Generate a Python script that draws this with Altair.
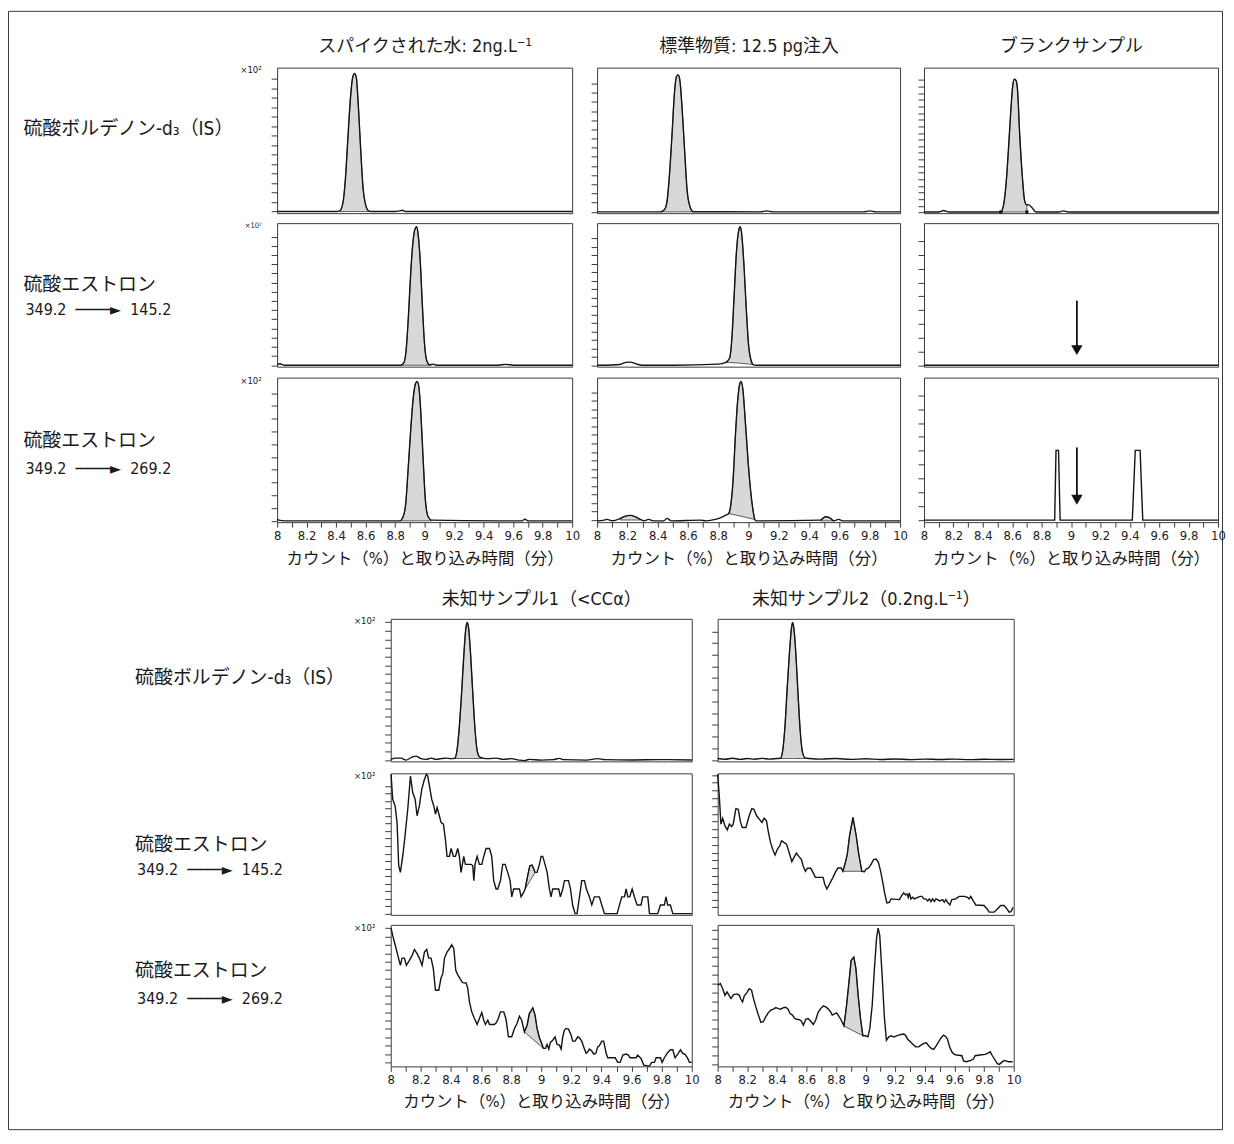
import altair as alt
import pandas as pd

# ---------------- text ----------------
NB = "\u00a0"
COL_TITLES_TOP = ["スパイクされた水: 2ng.L⁻¹", "標準物質: 12.5 pg注入", "ブランクサンプル"]
COL_TITLES_BOT = ["未知サンプル1（<CCα）", "未知サンプル2（0.2ng.L⁻¹）"]
ROW_LABELS = ["硫酸ボルデノン-d₃（IS）", "硫酸エストロン", "硫酸エストロン"]
ROW_SUBLABELS = ["", "349.2" + NB * 2 + "────►" + NB * 2 + "145.2",
                 "349.2" + NB * 2 + "────►" + NB * 2 + "269.2"]
X_TITLE = "カウント（%）と取り込み時間（分）"
SCALE_NOTE = "×10²"
X_TICKS = [8.0, 8.1, 8.2, 8.3, 8.4, 8.5, 8.6, 8.7, 8.8, 8.9, 9.0,
           9.1, 9.2, 9.3, 9.4, 9.5, 9.6, 9.7, 9.8, 9.9, 10.0]

# ---------------- data: retention time (min) / signal (% of panel full scale) ----------------
# top block, row 1 (IS)
T11_X = [8.0, 8.2, 8.40, 8.425, 8.447, 8.463, 8.481, 8.497, 8.511, 8.524, 8.536, 8.549, 8.565, 8.583, 8.601, 8.617, 8.636, 8.80, 8.832, 8.847, 8.87, 9.2, 9.6, 10.0]
T11_Y = [1.1, 1.1, 1.1, 1.6, 7.6, 23.7, 53.6, 78.8, 92.6, 96.0, 93.8, 76.6, 46.7, 16.8, 5.3, 1.8, 1.1, 1.1, 1.6, 2.0, 1.1, 1.1, 1.1, 1.1]
T11_FX = [8.425, 8.447, 8.463, 8.481, 8.497, 8.511, 8.524, 8.536, 8.549, 8.565, 8.583, 8.601, 8.617, 8.636]
T11_FY = [1.6, 7.6, 23.7, 53.6, 78.8, 92.6, 96.0, 93.8, 76.6, 46.7, 16.8, 5.3, 1.8, 1.1]
T11_FB = [1.1] * 14

T12_X = [8.0, 8.418, 8.444, 8.462, 8.477, 8.495, 8.51, 8.524, 8.535, 8.546, 8.561, 8.579, 8.594, 8.612, 8.634, 9.08, 9.12, 9.16, 9.76, 9.80, 9.84, 10.0]
T12_Y = [0.9, 0.9, 2.3, 8.3, 25.2, 54.5, 81.5, 93.9, 95.0, 91.7, 72.5, 41.0, 16.2, 4.9, 1.0, 0.9, 1.6, 0.9, 0.9, 1.6, 0.9, 0.9]
T12_FX = [8.418, 8.444, 8.462, 8.477, 8.495, 8.51, 8.524, 8.535, 8.546, 8.561, 8.579, 8.594, 8.612, 8.634]
T12_FY = [0.9, 2.3, 8.3, 25.2, 54.5, 81.5, 93.9, 95.0, 91.7, 72.5, 41.0, 16.2, 4.9, 1.0]
T12_FB = [0.9] * 14

T13_X = [8.0, 8.10, 8.134, 8.17, 8.523, 8.541, 8.559, 8.574, 8.59, 8.603, 8.614, 8.625, 8.636, 8.651, 8.669, 8.684, 8.695, 8.70, 8.713, 8.735, 8.757, 8.765, 8.92, 8.949, 8.98, 10.0]
T13_Y = [0.8, 0.8, 1.8, 0.8, 0.8, 5.5, 21.0, 43.0, 69.5, 87.0, 92.0, 91.4, 85.0, 54.0, 25.0, 8.8, 6.0, 5.8, 5.7, 3.8, 1.0, 0.8, 0.8, 1.6, 0.8, 0.8]
T13_FX = [8.523, 8.541, 8.559, 8.574, 8.59, 8.603, 8.614, 8.625, 8.636, 8.651, 8.669, 8.684, 8.695, 8.70]
T13_FY = [0.8, 5.5, 21.0, 43.0, 69.5, 87.0, 92.0, 91.4, 85.0, 54.0, 25.0, 8.8, 6.0, 5.8]
T13_FB = [0.8] * 14
T13_MARK_X = [8.523, 8.70]
T13_MARK_Y = [0.8, 0.8]

# top block, row 2 (349.2 -> 145.2)
T21_X = [8.0, 8.02, 8.05, 8.5, 8.84, 8.86, 8.875, 8.89, 8.905, 8.92, 8.935, 8.945, 8.955, 8.97, 8.985, 9.0, 9.015, 9.035, 9.06, 9.08, 9.5, 9.55, 9.6, 10.0]
T21_Y = [1.5, 2.0, 1.0, 1.0, 1.0, 3.0, 12.0, 35.0, 64.0, 86.0, 96.0, 97.5, 93.0, 74.0, 42.0, 15.0, 4.0, 1.2, 1.8, 1.0, 1.0, 1.6, 1.0, 1.0]
T21_FX = [8.84, 8.86, 8.875, 8.89, 8.905, 8.92, 8.935, 8.945, 8.955, 8.97, 8.985, 9.0, 9.015, 9.035]
T21_FY = [1.0, 3.0, 12.0, 35.0, 64.0, 86.0, 96.0, 97.5, 93.0, 74.0, 42.0, 15.0, 4.0, 1.2]
T21_FB = [1.0] * 14

T22_X = [8.0, 8.05, 8.15, 8.19, 8.22, 8.26, 8.3, 8.5, 8.8, 8.85, 8.875, 8.89, 8.905, 8.92, 8.935, 8.945, 8.955, 8.97, 8.985, 9.0, 9.015, 9.03, 9.05, 10.0]
T22_Y = [1.0, 1.0, 1.5, 3.0, 3.2, 1.8, 1.0, 1.0, 1.8, 3.0, 6.0, 20.0, 50.0, 80.0, 95.0, 97.5, 92.0, 70.0, 40.0, 15.0, 5.0, 1.5, 1.0, 1.0]
T22_FX = [8.85, 8.875, 8.89, 8.905, 8.92, 8.935, 8.945, 8.955, 8.97, 8.985, 9.0, 9.015, 9.03]
T22_FY = [3.0, 6.0, 20.0, 50.0, 80.0, 95.0, 97.5, 92.0, 70.0, 40.0, 15.0, 5.0, 1.5]
T22_FB = [3.0, 2.9, 2.8, 2.7, 2.6, 2.5, 2.4, 2.3, 2.2, 2.0, 1.8, 1.7, 1.5]

T23_X = [8.0, 10.0]
T23_Y = [1.0, 1.0]
T23_ARROW_X = [9.04]
T23_ARROW_TOP = [46.0]
T23_ARROW_END = [14.0]
T23_HEAD = [11.5]

# top block, row 3 (349.2 -> 269.2)
T31_X = [8.0, 8.02, 8.05, 8.832, 8.854, 8.872, 8.888, 8.906, 8.922, 8.938, 8.949, 8.961, 8.974, 8.99, 9.005, 9.024, 9.046, 9.5, 9.66, 9.68, 9.70, 10.0]
T31_Y = [2.0, 1.2, 0.9, 0.9, 3.7, 13.0, 36.4, 64.3, 85.3, 95.8, 97.4, 93.5, 76.0, 43.4, 15.4, 3.7, 1.4, 0.9, 0.9, 2.0, 0.9, 0.9]
T31_FX = [8.832, 8.854, 8.872, 8.888, 8.906, 8.922, 8.938, 8.949, 8.961, 8.974, 8.99, 9.005, 9.024, 9.046]
T31_FY = [0.9, 3.7, 13.0, 36.4, 64.3, 85.3, 95.8, 97.4, 93.5, 76.0, 43.4, 15.4, 3.7, 1.4]
T31_FB = [0.9] * 14

T32_X = [8.0, 8.04, 8.066, 8.10, 8.154, 8.187, 8.22, 8.253, 8.286, 8.31, 8.341, 8.37, 8.44, 8.462, 8.49, 8.682, 8.72, 8.781, 8.814, 8.847, 8.869, 8.884, 8.898, 8.913, 8.929, 8.942, 8.95, 8.962, 8.979, 9.001, 9.023, 9.041, 9.05, 9.474, 9.507, 9.536, 9.562, 9.595, 9.62, 10.0]
T32_Y = [0.9, 1.2, 1.9, 1.0, 2.6, 4.2, 4.7, 3.7, 1.9, 0.9, 1.9, 0.9, 0.9, 2.6, 0.9, 1.4, 0.9, 1.9, 3.0, 4.7, 6.0, 13.0, 29.4, 59.7, 85.3, 95.8, 97.4, 92.3, 69.0, 36.4, 13.0, 1.9, 0.9, 1.4, 3.7, 3.0, 0.9, 1.9, 0.9, 0.9]
T32_FX = [8.869, 8.884, 8.898, 8.913, 8.929, 8.942, 8.95, 8.962, 8.979, 9.001, 9.023, 9.041]
T32_FY = [6.0, 13.0, 29.4, 59.7, 85.3, 95.8, 97.4, 92.3, 69.0, 36.4, 13.0, 1.9]
T32_FB = [6.0, 5.6, 5.3, 5.0, 4.6, 4.3, 4.1, 3.8, 3.4, 2.9, 2.3, 1.9]
T32_F2X = [8.154, 8.187, 8.22, 8.253, 8.286]
T32_F2Y = [2.6, 4.2, 4.7, 3.7, 1.9]
T32_F2B = [1.5, 1.5, 1.5, 1.5, 1.5]
T32_F3X = [9.474, 9.507, 9.536, 9.562]
T32_F3Y = [1.4, 3.7, 3.0, 0.9]
T32_F3B = [0.9, 0.9, 0.9, 0.9]

T33_X = [8.0, 8.889, 8.898, 8.915, 8.926, 9.417, 9.437, 9.47, 9.488, 10.0]
T33_Y = [1.4, 1.4, 49.7, 49.7, 1.4, 1.4, 49.7, 49.7, 1.4, 1.4]
T33_ARROW_X = [9.04]
T33_ARROW_TOP = [51.7]
T33_ARROW_END = [18.0]
T33_HEAD = [15.5]

# bottom block, row 1 (IS)
B11_X = [8.0, 8.035, 8.068, 8.102, 8.135, 8.168, 8.201, 8.235, 8.268, 8.301, 8.334, 8.367, 8.40, 8.427, 8.441, 8.456, 8.472, 8.485, 8.498, 8.507, 8.516, 8.53, 8.545, 8.56, 8.573, 8.589, 8.611, 8.65, 8.70, 8.75, 8.80, 8.85, 8.888, 8.92, 9.0, 9.08, 9.121, 9.15, 9.30, 9.375, 9.42, 9.6, 9.8, 10.0]
B11_Y = [1.4, 2.3, 2.3, 0.9, 2.6, 3.7, 1.9, 1.4, 2.3, 1.4, 1.9, 2.3, 1.9, 2.3, 8.4, 24.7, 50.3, 73.6, 92.3, 97.4, 94.6, 76.0, 48.0, 22.4, 8.4, 3.3, 2.3, 1.9, 2.3, 1.4, 1.9, 0.9, 0.5, 1.4, 0.9, 1.2, 2.1, 1.2, 0.9, 1.9, 1.2, 1.0, 1.2, 1.0]
B11_FX = [8.427, 8.441, 8.456, 8.472, 8.485, 8.498, 8.507, 8.516, 8.53, 8.545, 8.56, 8.573, 8.589, 8.611]
B11_FY = [2.3, 8.4, 24.7, 50.3, 73.6, 92.3, 97.4, 94.6, 76.0, 48.0, 22.4, 8.4, 3.3, 2.3]
B11_FB = [2.0] * 14

B12_X = [8.0, 8.05, 8.1, 8.15, 8.2, 8.25, 8.3, 8.35, 8.40, 8.425, 8.44, 8.455, 8.47, 8.485, 8.498, 8.506, 8.514, 8.528, 8.543, 8.558, 8.572, 8.59, 8.62, 8.7, 8.8, 8.9, 9.0, 9.1, 9.2, 9.3, 9.4, 9.5, 9.6, 9.7, 9.8, 9.9, 10.0]
B12_Y = [2.0, 1.5, 2.2, 1.4, 2.0, 1.5, 2.1, 1.6, 2.0, 2.2, 8.0, 25.0, 52.0, 76.0, 93.0, 97.5, 94.0, 76.0, 47.0, 21.0, 7.0, 2.5, 2.0, 1.6, 2.0, 1.4, 1.8, 1.3, 1.7, 1.2, 1.6, 1.3, 1.6, 1.2, 1.5, 1.3, 1.4]
B12_FX = [8.425, 8.44, 8.455, 8.47, 8.485, 8.498, 8.506, 8.514, 8.528, 8.543, 8.558, 8.572, 8.59]
B12_FY = [2.2, 8.0, 25.0, 52.0, 76.0, 93.0, 97.5, 94.0, 76.0, 47.0, 21.0, 7.0, 2.5]
B12_FB = [2.0] * 13

# bottom block, row 2 (349.2 -> 145.2)
B21_X = [8.002, 8.013, 8.029, 8.042, 8.053, 8.064, 8.080, 8.095, 8.113, 8.131, 8.146, 8.162, 8.175, 8.190, 8.206, 8.224, 8.237, 8.246, 8.261, 8.272, 8.286, 8.297, 8.308, 8.323, 8.334, 8.350, 8.363, 8.374, 8.390, 8.401, 8.416, 8.430, 8.445, 8.456, 8.467, 8.485, 8.496, 8.512, 8.534, 8.545, 8.552, 8.560, 8.574, 8.589, 8.605, 8.618, 8.633, 8.656, 8.671, 8.684, 8.700, 8.711, 8.729, 8.744, 8.760, 8.777, 8.793, 8.804, 8.817, 8.839, 8.855, 8.866, 8.881, 8.893, 8.910, 8.924, 8.939, 8.950, 8.959, 8.972, 8.988, 8.999, 9.010, 9.025, 9.039, 9.054, 9.065, 9.076, 9.099, 9.116, 9.127, 9.143, 9.154, 9.181, 9.194, 9.209, 9.225, 9.238, 9.254, 9.269, 9.287, 9.300, 9.320, 9.336, 9.353, 9.386, 9.402, 9.420, 9.504, 9.535, 9.553, 9.564, 9.575, 9.588, 9.604, 9.619, 9.637, 9.663, 9.674, 9.708, 9.719, 9.774, 9.792, 9.818, 9.829, 9.840, 9.858, 9.874, 10.0]
B21_Y = [99.3, 81.7, 77.0, 65.3, 34.7, 30.0, 41.8, 55.9, 74.6, 98.1, 86.4, 81.7, 70.0, 77.0, 88.7, 95.8, 99.3, 98.1, 88.7, 81.7, 77.0, 71.1, 75.8, 70.0, 65.3, 64.1, 53.5, 41.3, 41.3, 46.9, 41.3, 41.3, 46.9, 41.3, 30.0, 41.3, 35.7, 35.7, 35.7, 34.7, 24.2, 35.7, 41.3, 35.7, 35.7, 41.3, 46.9, 46.9, 41.3, 24.2, 18.3, 18.3, 24.2, 35.7, 35.7, 30.0, 24.2, 12.7, 18.3, 18.3, 18.3, 12.7, 15.5, 18.3, 27.7, 34.7, 35.2, 32.4, 30.0, 30.0, 35.7, 41.3, 41.3, 35.7, 30.0, 18.3, 12.7, 18.3, 18.3, 18.3, 12.7, 18.3, 24.2, 24.2, 18.3, 6.6, 0.9, 0.9, 12.7, 24.2, 24.2, 18.3, 12.7, 7.0, 12.7, 12.7, 7.0, 0.9, 0.9, 12.7, 12.7, 18.3, 12.7, 12.7, 18.3, 12.7, 7.0, 7.0, 12.7, 12.7, 0.9, 0.9, 7.0, 7.0, 12.7, 7.0, 7.0, 0.9, 0.9]
B21_FX = [8.893, 8.910, 8.924, 8.939, 8.950, 8.959]
B21_FY = [18.3, 27.7, 34.7, 35.2, 32.4, 30.0]
B21_FB = [18.3, 21.3, 23.8, 26.5, 28.4, 30.0]

B22_X = [8.0, 8.011, 8.022, 8.034, 8.049, 8.065, 8.079, 8.094, 8.105, 8.123, 8.139, 8.155, 8.166, 8.191, 8.213, 8.231, 8.245, 8.263, 8.281, 8.299, 8.314, 8.330, 8.341, 8.357, 8.375, 8.388, 8.404, 8.420, 8.431, 8.447, 8.465, 8.483, 8.501, 8.516, 8.532, 8.548, 8.566, 8.577, 8.593, 8.606, 8.629, 8.644, 8.660, 8.712, 8.723, 8.738, 8.756, 8.779, 8.797, 8.813, 8.835, 8.846, 8.860, 8.875, 8.891, 8.914, 8.936, 8.954, 8.974, 8.992, 9.003, 9.019, 9.037, 9.053, 9.071, 9.086, 9.100, 9.111, 9.127, 9.143, 9.160, 9.172, 9.228, 9.246, 9.257, 9.268, 9.279, 9.288, 9.295, 9.306, 9.318, 9.329, 9.367, 9.380, 9.392, 9.407, 9.419, 9.430, 9.441, 9.452, 9.464, 9.475, 9.502, 9.520, 9.531, 9.542, 9.556, 9.569, 9.582, 9.609, 9.632, 9.666, 9.688, 9.699, 9.710, 9.726, 9.744, 9.800, 9.823, 9.834, 9.868, 9.890, 9.912, 9.935, 9.951, 9.969, 9.982, 9.996]
B22_Y = [99.3, 84.0, 64.1, 68.1, 62.9, 60.1, 64.1, 62.4, 64.1, 75.1, 74.6, 65.3, 61.7, 61.7, 70.0, 75.1, 74.6, 70.0, 67.6, 65.3, 68.3, 66.4, 59.4, 51.2, 45.3, 42.3, 46.5, 48.8, 52.3, 51.2, 50.0, 44.1, 37.6, 40.6, 43.7, 41.3, 39.0, 34.7, 30.8, 32.9, 32.9, 30.0, 26.5, 26.5, 21.8, 18.3, 21.8, 26.5, 30.5, 33.1, 33.1, 30.8, 35.9, 42.3, 55.9, 68.8, 55.9, 42.3, 30.8, 30.5, 32.4, 33.1, 35.9, 39.0, 39.4, 37.1, 31.2, 25.4, 16.0, 8.5, 8.9, 11.3, 10.8, 14.1, 15.5, 14.1, 14.8, 12.4, 15.5, 11.3, 12.4, 11.3, 13.1, 13.1, 11.3, 11.3, 9.9, 11.3, 9.4, 11.3, 9.4, 11.3, 9.9, 10.8, 8.9, 10.8, 8.5, 7.0, 10.8, 11.3, 13.1, 13.1, 12.4, 11.3, 13.1, 10.1, 7.0, 6.6, 3.8, 1.9, 1.9, 4.2, 6.6, 6.6, 4.7, 1.9, 2.3, 5.4]
B22_FX = [8.846, 8.860, 8.875, 8.891, 8.914, 8.936, 8.954, 8.974]
B22_FY = [30.8, 35.9, 42.3, 55.9, 68.8, 55.9, 42.3, 30.8]
B22_FB = [30.8] * 8

# bottom block, row 3 (349.2 -> 269.2)
B31_X = [8.002, 8.013, 8.029, 8.047, 8.064, 8.075, 8.091, 8.104, 8.124, 8.142, 8.157, 8.175, 8.190, 8.208, 8.224, 8.239, 8.252, 8.268, 8.283, 8.297, 8.319, 8.334, 8.346, 8.357, 8.374, 8.390, 8.405, 8.419, 8.432, 8.445, 8.463, 8.478, 8.501, 8.512, 8.523, 8.538, 8.556, 8.574, 8.589, 8.605, 8.618, 8.629, 8.645, 8.656, 8.689, 8.702, 8.715, 8.729, 8.751, 8.766, 8.782, 8.804, 8.822, 8.839, 8.855, 8.870, 8.888, 8.906, 8.921, 8.944, 8.959, 8.972, 8.988, 9.003, 9.014, 9.028, 9.039, 9.050, 9.061, 9.076, 9.092, 9.105, 9.121, 9.132, 9.143, 9.154, 9.165, 9.181, 9.198, 9.209, 9.225, 9.243, 9.254, 9.269, 9.287, 9.298, 9.309, 9.320, 9.336, 9.349, 9.362, 9.375, 9.386, 9.402, 9.415, 9.431, 9.442, 9.491, 9.508, 9.524, 9.542, 9.564, 9.579, 9.590, 9.630, 9.641, 9.663, 9.681, 9.719, 9.734, 9.752, 9.763, 9.792, 9.803, 9.818, 9.836, 9.858, 9.874, 9.889, 9.907, 9.925, 9.940, 9.956, 9.973, 9.985, 10.0]
B31_Y = [97.7, 92.5, 85.9, 78.4, 71.4, 76.5, 76.5, 71.4, 74.9, 78.4, 82.6, 79.6, 76.5, 71.4, 80.8, 82.6, 76.5, 76.5, 69.0, 53.8, 53.8, 62.4, 65.5, 76.5, 80.8, 83.1, 85.9, 83.1, 67.8, 64.8, 61.5, 59.2, 58.9, 54.9, 45.5, 38.5, 33.8, 29.6, 33.8, 38.0, 32.6, 29.6, 32.6, 29.6, 29.6, 31.0, 33.8, 38.5, 38.5, 33.3, 20.9, 20.9, 26.8, 30.3, 35.4, 32.6, 24.4, 29.1, 37.3, 41.3, 36.2, 26.8, 20.2, 16.2, 12.7, 12.7, 15.5, 12.2, 16.9, 18.5, 20.9, 15.5, 15.0, 12.2, 20.9, 25.6, 26.8, 26.3, 22.1, 17.8, 17.8, 20.9, 20.2, 17.8, 12.2, 9.2, 10.3, 12.2, 10.8, 8.7, 9.2, 13.8, 14.6, 17.8, 17.8, 9.2, 6.1, 6.1, 2.8, 2.8, 8.0, 8.7, 8.0, 6.1, 6.1, 8.0, 5.6, 0.9, 0.2, 2.8, 2.8, 6.1, 6.1, 2.8, 6.1, 9.2, 11.7, 11.7, 6.1, 8.7, 11.7, 9.2, 8.5, 5.6, 2.8, 2.8]
B31_FX = [8.888, 8.906, 8.921, 8.944, 8.959, 8.972, 8.988, 9.003, 9.014]
B31_FY = [24.4, 29.1, 37.3, 41.3, 36.2, 26.8, 20.2, 16.2, 12.7]
B31_FB = [24.4, 22.7, 21.3, 19.2, 17.8, 16.6, 15.1, 13.7, 12.7]

B32_X = [8.000, 8.018, 8.034, 8.049, 8.063, 8.079, 8.090, 8.108, 8.130, 8.146, 8.157, 8.168, 8.180, 8.198, 8.213, 8.229, 8.242, 8.258, 8.274, 8.292, 8.308, 8.325, 8.341, 8.359, 8.377, 8.393, 8.409, 8.426, 8.444, 8.460, 8.476, 8.489, 8.505, 8.521, 8.534, 8.550, 8.566, 8.579, 8.595, 8.611, 8.629, 8.646, 8.662, 8.678, 8.696, 8.714, 8.730, 8.745, 8.763, 8.774, 8.786, 8.804, 8.819, 8.835, 8.853, 8.871, 8.887, 8.902, 8.920, 8.934, 8.949, 8.965, 8.981, 8.999, 9.015, 9.028, 9.044, 9.059, 9.073, 9.084, 9.095, 9.111, 9.127, 9.140, 9.156, 9.172, 9.190, 9.208, 9.223, 9.239, 9.257, 9.268, 9.284, 9.302, 9.320, 9.338, 9.358, 9.374, 9.392, 9.410, 9.425, 9.443, 9.459, 9.477, 9.493, 9.511, 9.526, 9.542, 9.553, 9.567, 9.582, 9.598, 9.616, 9.650, 9.661, 9.679, 9.710, 9.728, 9.739, 9.773, 9.807, 9.823, 9.841, 9.856, 9.874, 9.890, 9.903, 9.919, 9.935, 9.964, 9.993]
B32_Y = [57.3, 58.5, 54.9, 50.2, 52.6, 49.8, 47.9, 50.7, 51.2, 50.2, 47.4, 45.5, 49.8, 52.1, 54.9, 53.8, 47.9, 42.0, 36.6, 31.0, 31.5, 35.0, 37.8, 39.7, 40.4, 41.5, 40.8, 40.4, 41.5, 41.8, 40.4, 37.3, 36.2, 33.8, 33.3, 33.1, 31.9, 29.1, 33.3, 33.8, 31.9, 29.6, 32.6, 38.0, 40.8, 42.7, 42.0, 40.8, 38.5, 36.2, 36.9, 37.8, 35.4, 32.6, 28.6, 43.2, 59.6, 74.9, 77.2, 69.0, 50.2, 33.8, 21.6, 21.6, 20.9, 26.8, 43.2, 69.0, 90.1, 97.7, 92.5, 64.3, 33.8, 18.5, 20.9, 21.6, 20.7, 21.6, 22.1, 22.5, 22.8, 22.1, 19.2, 17.4, 15.5, 13.8, 13.8, 15.0, 16.2, 16.7, 14.6, 12.7, 12.0, 14.6, 17.4, 20.4, 22.1, 20.9, 19.2, 13.8, 10.3, 8.5, 8.0, 7.5, 3.8, 3.3, 4.2, 5.2, 7.5, 8.0, 8.5, 9.2, 10.3, 7.5, 4.5, 1.9, 1.4, 2.8, 4.2, 3.3, 3.3]
B32_FX = [8.853, 8.871, 8.887, 8.902, 8.920, 8.934, 8.949, 8.965, 8.981]
B32_FY = [28.6, 43.2, 59.6, 74.9, 77.2, 69.0, 50.2, 33.8, 21.6]
B32_FB = [28.6, 27.6, 26.7, 25.9, 24.9, 24.1, 23.3, 22.5, 21.6]

# ---------------- layout (page pixels) ----------------
OX, OY = 8, 9            # page position of the chart view
W, H = 1218, 1122        # view (outer frame) size
TOP_COLS = [(278, 574), (599, 903), (927, 1222)]
TOP_ROWS = [(66, 212), (222, 366), (377, 522)]
BOT_COLS = [(392, 694), (720, 1017)]
BOT_ROWS = [(619, 762), (774, 916), (926, 1068)]
TOP_TITLE_Y, BOT_TITLE_Y = 45, 600
TOP_XTITLE_Y, BOT_XTITLE_Y = 558, 1103
TOP_LABEL_X, BOT_LABEL_X = 23, 135
TOP_LABEL_Y = [127, 284, 440]
TOP_SUB_Y = [0, 309, 468]
BOT_LABEL_Y = [678, 845, 972]
BOT_SUB_Y = [0, 871, 1000]

FONT = "Liberation Sans Narrow, DejaVu Sans Condensed, Noto Sans CJK JP, sans-serif"
LINE_C = "#141414"
AXIS_C = "#3c3c3c"
FILL_C = "#d8d8d8"


def yticks(start, step, n):
    return [round(start + k * step, 2) for k in range(n)]


def make_panel(xs_data, ys_data, xr, yr, ytk, interp="monotone", fills=(),
               xlab=False, xtitle_y=None, col_title=None, title_y=None,
               row_label=None, label_x=None, label_y=None, sub_label=None, sub_y=None,
               note_y=None, note_size=9.5, arrow=None, marks=None):
    x0, x1 = xr
    y0, y1 = yr
    xsc = alt.Scale(domain=[8, 10], range=[x0 - OX, x1 - OX], nice=False, zero=False)
    ysc = alt.Scale(domain=[0, 100], range=[y1 - OY, y0 - OY], nice=False, zero=False)
    cx = (x0 + x1) / 2 - OX
    df = pd.DataFrame({"t": xs_data, "v": ys_data})
    layers = []

    # filled integration regions (one area per region)
    for fx, fy, fb in fills:
        fdf = pd.DataFrame({"t": fx, "v": fy, "b": fb})
        layers.append(
            alt.Chart(fdf).mark_area(fill=FILL_C, fillOpacity=1, stroke="#333333",
                                     strokeWidth=0.8, interpolate=interp)
            .encode(x=alt.X("t:Q", scale=xsc, axis=None),
                    y=alt.Y("v:Q", scale=ysc, axis=None),
                    y2="b:Q")
        )

    # main trace with bottom / left axes
    xa = dict(orient="bottom", offset=-(H - (y1 - OY)), domain=True, domainColor=AXIS_C,
              grid=False)
    if xlab:
        xa.update(values=X_TICKS, ticks=True, tickSize=5, tickColor=AXIS_C, labels=True,
                  labelExpr="(round(datum.value*10) % 2 == 0) ? '' + round(datum.value*10)/10 : ''",
                  labelFlush=False, labelOverlap=False, labelPadding=2,
                  title=X_TITLE, titleX=cx, titleY=xtitle_y - y1,
                  titleAlign="center", titleBaseline="middle", titleFontSize=16.5)
    else:
        xa.update(ticks=False, labels=False, title=None)
    ya = dict(orient="left", offset=-(x0 - OX), values=yticks(*ytk), ticks=True, tickSize=6,
              tickColor=AXIS_C, labels=False, domain=True, domainColor=AXIS_C, grid=False)
    if row_label:
        ya.update(title=row_label, titleX=label_x - x0, titleY=label_y - OY, titleAngle=0,
                  titleAlign="left", titleBaseline="middle", titleFontSize=19)
    else:
        ya.update(title=None)
    layers.append(
        alt.Chart(df).mark_line(color=LINE_C, strokeWidth=1.4, interpolate=interp)
        .encode(x=alt.X("t:Q", scale=xsc, axis=alt.Axis(**xa)),
                y=alt.Y("v:Q", scale=ysc, axis=alt.Axis(**ya)))
    )

    # top / right frame of the panel (+ column title, x10^2 note)
    xb = dict(orient="top", offset=-(y0 - OY), domain=True, domainColor=AXIS_C, ticks=False,
              labels=False, grid=False)
    if col_title:
        xb.update(title=col_title, titleX=cx, titleY=title_y - y0, titleAlign="center",
                  titleBaseline="middle", titleFontSize=18)
    else:
        xb.update(title=None)
    yb = dict(orient="right", offset=-(W - (x1 - OX)), domain=True, domainColor=AXIS_C,
              ticks=False, labels=False, grid=False)
    if note_y is not None:
        yb.update(title=SCALE_NOTE, titleX=(x0 - 16) - x1, titleY=note_y - OY, titleAngle=0,
                  titleAlign="right", titleBaseline="middle", titleFontSize=note_size)
    else:
        yb.update(title=None)
    layers.append(
        alt.Chart(df).mark_line(opacity=0)
        .encode(x=alt.X("t:Q", scale=xsc, axis=alt.Axis(**xb)),
                y=alt.Y("v:Q", scale=ysc, axis=alt.Axis(**yb)))
    )

    # second line of the row label
    if sub_label:
        yc = dict(orient="left", offset=-(x0 - OX), domain=False, ticks=False, labels=False,
                  grid=False, title=sub_label, titleX=(label_x + 2) - x0, titleY=sub_y - OY,
                  titleAngle=0, titleAlign="left", titleBaseline="middle", titleFontSize=16)
        layers.append(
            alt.Chart(df).mark_line(opacity=0)
            .encode(x=alt.X("t:Q", scale=xsc, axis=None),
                    y=alt.Y("v:Q", scale=ysc, axis=alt.Axis(**yc)))
        )

    # arrow marking the expected retention time
    if arrow is not None:
        ax, atop, aend, ahead = arrow
        adf = pd.DataFrame({"t": ax, "top": atop, "end": aend, "head": ahead})
        layers.append(
            alt.Chart(adf).mark_rule(color="#111111", strokeWidth=1.8)
            .encode(x=alt.X("t:Q", scale=xsc, axis=None),
                    y=alt.Y("top:Q", scale=ysc, axis=None), y2="end:Q")
        )
        layers.append(
            alt.Chart(adf).mark_point(shape="triangle-down", filled=True, color="#111111",
                                      size=130, opacity=1)
            .encode(x=alt.X("t:Q", scale=xsc, axis=None),
                    y=alt.Y("head:Q", scale=ysc, axis=None))
        )

    # integration start/end markers
    if marks is not None:
        mx, my = marks
        mdf = pd.DataFrame({"t": mx, "v": my})
        layers.append(
            alt.Chart(mdf).mark_point(shape="square", filled=True, color="#111111", size=10,
                                      opacity=1)
            .encode(x=alt.X("t:Q", scale=xsc, axis=None),
                    y=alt.Y("v:Q", scale=ysc, axis=None))
        )
    return layers


L = []
# ---- top block ----
L += make_panel(T11_X, T11_Y, TOP_COLS[0], TOP_ROWS[0], (1.2, 6.5, 15),
                fills=[(T11_FX, T11_FY, T11_FB)],
                col_title=COL_TITLES_TOP[0], title_y=TOP_TITLE_Y,
                row_label=ROW_LABELS[0], label_x=TOP_LABEL_X, label_y=TOP_LABEL_Y[0],
                note_y=68)
L += make_panel(T12_X, T12_Y, TOP_COLS[1], TOP_ROWS[0], (0.9, 6.3, 15),
                fills=[(T12_FX, T12_FY, T12_FB)],
                col_title=COL_TITLES_TOP[1], title_y=TOP_TITLE_Y)
L += make_panel(T13_X, T13_Y, TOP_COLS[2], TOP_ROWS[0], (0.5, 4.55, 21),
                fills=[(T13_FX, T13_FY, T13_FB)],
                col_title=COL_TITLES_TOP[2], title_y=TOP_TITLE_Y,
                marks=(T13_MARK_X, T13_MARK_Y))
L += make_panel(T21_X, T21_Y, TOP_COLS[0], TOP_ROWS[1], (1.0, 6.4, 15),
                fills=[(T21_FX, T21_FY, T21_FB)],
                row_label=ROW_LABELS[1], label_x=TOP_LABEL_X, label_y=TOP_LABEL_Y[1],
                sub_label=ROW_SUBLABELS[1], sub_y=TOP_SUB_Y[1], note_y=224, note_size=7.5)
L += make_panel(T22_X, T22_Y, TOP_COLS[1], TOP_ROWS[1], (1.0, 5.9, 16),
                fills=[(T22_FX, T22_FY, T22_FB)])
L += make_panel(T23_X, T23_Y, TOP_COLS[2], TOP_ROWS[1], (1.0, 9.6, 10), interp="linear",
                arrow=(T23_ARROW_X, T23_ARROW_TOP, T23_ARROW_END, T23_HEAD))
L += make_panel(T31_X, T31_Y, TOP_COLS[0], TOP_ROWS[2], (0.9, 8.84, 11),
                fills=[(T31_FX, T31_FY, T31_FB)],
                xlab=True, xtitle_y=TOP_XTITLE_Y,
                row_label=ROW_LABELS[2], label_x=TOP_LABEL_X, label_y=TOP_LABEL_Y[2],
                sub_label=ROW_SUBLABELS[2], sub_y=TOP_SUB_Y[2], note_y=380)
L += make_panel(T32_X, T32_Y, TOP_COLS[1], TOP_ROWS[2], (1.4, 5.9, 16),
                fills=[(T32_FX, T32_FY, T32_FB), (T32_F2X, T32_F2Y, T32_F2B),
                       (T32_F3X, T32_F3Y, T32_F3B)],
                xlab=True, xtitle_y=TOP_XTITLE_Y)
L += make_panel(T33_X, T33_Y, TOP_COLS[2], TOP_ROWS[2], (1.4, 9.6, 10), interp="linear",
                xlab=True, xtitle_y=TOP_XTITLE_Y,
                arrow=(T33_ARROW_X, T33_ARROW_TOP, T33_ARROW_END, T33_HEAD))
# ---- bottom block ----
L += make_panel(B11_X, B11_Y, BOT_COLS[0], BOT_ROWS[0], (0.9, 6.05, 17),
                fills=[(B11_FX, B11_FY, B11_FB)],
                col_title=COL_TITLES_BOT[0], title_y=BOT_TITLE_Y,
                row_label=ROW_LABELS[0], label_x=BOT_LABEL_X, label_y=BOT_LABEL_Y[0],
                note_y=621)
L += make_panel(B12_X, B12_Y, BOT_COLS[1], BOT_ROWS[0], (1.0, 8.2, 12),
                fills=[(B12_FX, B12_FY, B12_FB)],
                col_title=COL_TITLES_BOT[1], title_y=BOT_TITLE_Y)
L += make_panel(B21_X, B21_Y, BOT_COLS[0], BOT_ROWS[1], (0.9, 5.3, 18), interp="linear",
                fills=[(B21_FX, B21_FY, B21_FB)],
                row_label=ROW_LABELS[1], label_x=BOT_LABEL_X, label_y=BOT_LABEL_Y[1],
                sub_label=ROW_SUBLABELS[1], sub_y=BOT_SUB_Y[1], note_y=776)
L += make_panel(B22_X, B22_Y, BOT_COLS[1], BOT_ROWS[1], (5.4, 5.5, 18), interp="linear",
                fills=[(B22_FX, B22_FY, B22_FB)])
L += make_panel(B31_X, B31_Y, BOT_COLS[0], BOT_ROWS[2], (2.8, 5.93, 17), interp="linear",
                fills=[(B31_FX, B31_FY, B31_FB)],
                xlab=True, xtitle_y=BOT_XTITLE_Y,
                row_label=ROW_LABELS[2], label_x=BOT_LABEL_X, label_y=BOT_LABEL_Y[2],
                sub_label=ROW_SUBLABELS[2], sub_y=BOT_SUB_Y[2], note_y=929)
L += make_panel(B32_X, B32_Y, BOT_COLS[1], BOT_ROWS[2], (1.6, 6.34, 16), interp="linear",
                fills=[(B32_FX, B32_FY, B32_FB)],
                xlab=True, xtitle_y=BOT_XTITLE_Y)

chart = (
    alt.layer(*L)
    .resolve_scale(x="independent", y="independent")
    .resolve_axis(x="independent", y="independent")
    .properties(width=W, height=H,
                padding={"left": 0, "top": 1, "right": 0, "bottom": 0})
    .configure_view(stroke="#3a3a3a", strokeWidth=1)
    .configure_axis(labelFont=FONT, labelFontSize=13, labelColor="#222222",
                    titleFont=FONT, titleFontSize=17, titleFontWeight="normal",
                    titleColor="#1a1a1a", domainWidth=1, tickWidth=1)
)

chart.save("out.html", embed_options={"renderer": "svg", "actions": False})
